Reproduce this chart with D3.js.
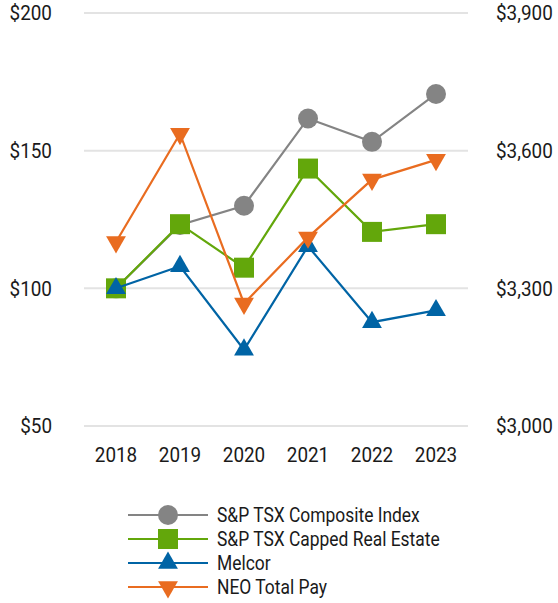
<!DOCTYPE html>
<html>
<head>
<meta charset="utf-8">
<script src="https://cdn.jsdelivr.net/npm/d3@7"></script>
<style>
body { margin: 0; background: #fff; }
svg text { font-family: Roboto, "Liberation Sans", sans-serif; fill: #1a1a1a; }
</style>
</head>
<body>
<script>
// data
var years = ["2018", "2019", "2020", "2021", "2022", "2023"];
var composite = [100, 123, 130, 161.7, 153.2, 170.6];
var realEstate = [100, 123.3, 107.5, 143.5, 120.5, 123.3];
var melcor = [100, 108, 77.7, 115.3, 87.7, 92];
var neoPay = [3401, 3637, 3267, 3411, 3537, 3580];
var leftTicks = [50, 100, 150, 200];
var rightTicks = [3000, 3300, 3600, 3900];

var seriesNames = ["S&P TSX Composite Index", "S&P TSX Capped Real Estate", "Melcor", "NEO Total Pay"];
var seriesColors = ["#848484", "#63a70b", "#0064a5", "#e96c20"];

var width = 558, height = 603;
var plot = {left: 84, right: 468, top: 13, bottom: 426};

var svg = d3.select("body").append("svg")
    .attr("width", width)
    .attr("height", height);

var x = d3.scaleBand().domain(years).range([plot.left, plot.right]);
var yLeft = d3.scaleLinear().domain([50, 200]).range([plot.bottom, plot.top]);
var yRight = d3.scaleLinear().domain([3000, 3900]).range([plot.bottom, plot.top]);

// condensed look: squeeze text sideways around its anchor
function styleAxisText(sel) {
    sel.style("font-size", "21px")
        .attr("transform", "scale(0.9,1)");
}

// gridlines
svg.append("g").selectAll("line")
    .data(leftTicks)
    .enter().append("line")
    .attr("x1", plot.left).attr("x2", plot.right)
    .attr("y1", function (d) { return yLeft(d); })
    .attr("y2", function (d) { return yLeft(d); })
    .attr("stroke", "#e3e3e3")
    .attr("stroke-width", 2);

// left axis labels
var leftAxis = d3.axisLeft(yLeft).tickValues(leftTicks).tickSize(0).tickPadding(0)
    .tickFormat(function (d) { return "$" + d; });
svg.append("g")
    .attr("transform", "translate(52,0)")
    .call(leftAxis)
    .call(function (g) { g.select(".domain").remove(); })
    .selectAll("text")
    .call(styleAxisText);

// right axis labels
var rightAxis = d3.axisRight(yRight).tickValues(rightTicks).tickSize(0).tickPadding(0)
    .tickFormat(function (d) { return "$" + d3.format(",")(d); });
svg.append("g")
    .attr("transform", "translate(496,0)")
    .call(rightAxis)
    .call(function (g) { g.select(".domain").remove(); })
    .selectAll("text")
    .call(styleAxisText);

// x axis labels
var xAxis = d3.axisBottom(x).tickSize(0).tickPadding(0);
svg.append("g")
    .attr("transform", "translate(0,447)")
    .call(xAxis)
    .call(function (g) { g.select(".domain").remove(); })
    .selectAll("text")
    .call(styleAxisText);

var cx = function (i) { return x(years[i]) + x.bandwidth() / 2; };

var markCircle = d3.symbol().type(d3.symbolCircle).size(Math.PI * 100);
var markSquare = d3.symbol().type(d3.symbolSquare).size(400);
var markTri = d3.symbol().type(d3.symbolTriangle).size(170);

var series = [
    {vals: composite, scale: yLeft, mark: markCircle, rot: 0},
    {vals: realEstate, scale: yLeft, mark: markSquare, rot: 0},
    {vals: melcor, scale: yLeft, mark: markTri, rot: 0},
    {vals: neoPay, scale: yRight, mark: markTri, rot: 180}
];

series.forEach(function (s, k) {
    var line = d3.line()
        .x(function (d, i) { return cx(i); })
        .y(function (d) { return s.scale(d); });
    svg.append("path")
        .datum(s.vals)
        .attr("d", line)
        .attr("fill", "none")
        .attr("stroke", seriesColors[k])
        .attr("stroke-width", 2.2);
    svg.append("g").selectAll("path")
        .data(s.vals)
        .enter().append("path")
        .attr("transform", function (d, i) {
            return "translate(" + cx(i) + "," + s.scale(d) + ") rotate(" + s.rot + ")";
        })
        .attr("d", s.mark)
        .attr("fill", seriesColors[k]);
});

// legend
var legendY = d3.scalePoint().domain(seriesNames).range([515, 587]);
var legend = svg.append("g").selectAll("g")
    .data(series)
    .enter().append("g")
    .attr("transform", function (d, k) { return "translate(0," + legendY(seriesNames[k]) + ")"; });
legend.append("line")
    .attr("x1", 128).attr("x2", 208)
    .attr("stroke", function (d, k) { return seriesColors[k]; })
    .attr("stroke-width", 2.2);
legend.append("path")
    .attr("transform", function (d) { return "translate(168,0) rotate(" + d.rot + ")"; })
    .attr("d", function (d) { return d.mark(); })
    .attr("fill", function (d, k) { return seriesColors[k]; });
legend.append("text")
    .attr("transform", "translate(217,0) scale(0.83,1)")
    .attr("dy", "0.35em")
    .style("font-size", "21px")
    .text(function (d, k) { return seriesNames[k]; });
</script>
</body>
</html>
